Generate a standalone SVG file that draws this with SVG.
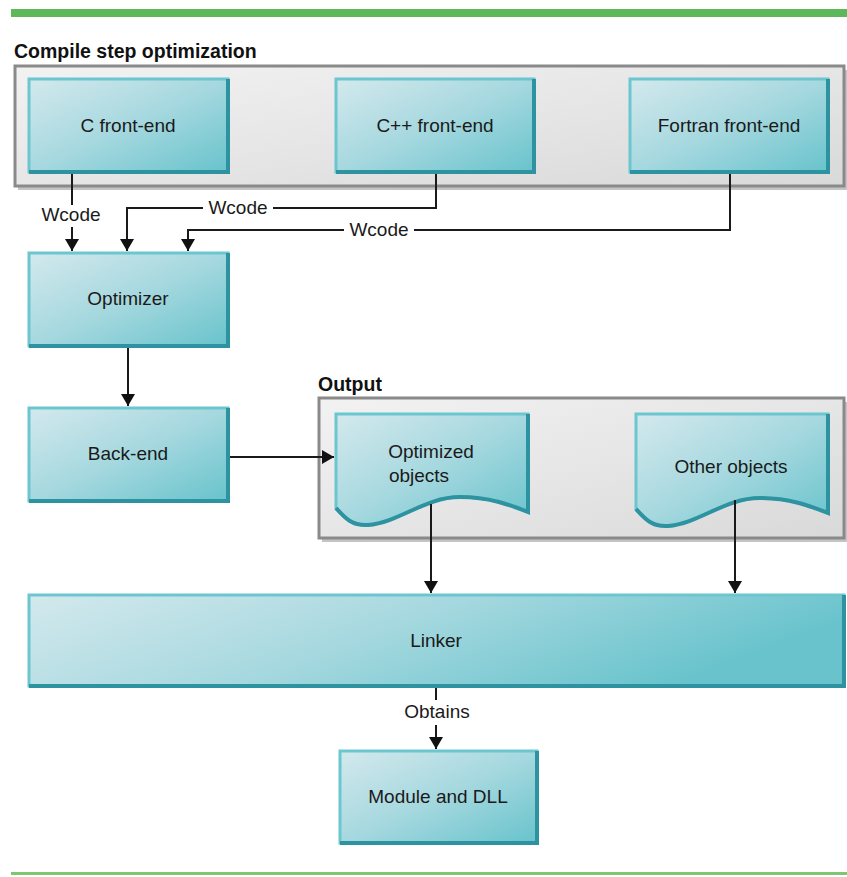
<svg xmlns="http://www.w3.org/2000/svg" width="847" height="877" viewBox="0 0 847 877">
<defs>
<linearGradient id="cyan" x1="0" y1="0" x2="1" y2="1">
<stop offset="0" stop-color="#d3e9ed"/>
<stop offset="0.5" stop-color="#a6d8df"/>
<stop offset="1" stop-color="#68c3cc"/>
</linearGradient>
<linearGradient id="cyanWide" x1="0" y1="0" x2="1" y2="0.3">
<stop offset="0" stop-color="#d3e9ed"/>
<stop offset="0.5" stop-color="#a6d8df"/>
<stop offset="1" stop-color="#68c3cc"/>
</linearGradient>
<linearGradient id="grey" x1="0" y1="0" x2="1" y2="1">
<stop offset="0" stop-color="#f2f2f2"/>
<stop offset="0.5" stop-color="#e6e6e6"/>
<stop offset="1" stop-color="#d9d9d9"/>
</linearGradient>
<marker id="arr" viewBox="0 0 12 14" refX="12" refY="7" markerWidth="12" markerHeight="14" markerUnits="userSpaceOnUse" orient="auto">
<path d="M0,0 L12,7 L0,14 Z" fill="#111"/>
</marker>
<style>
.box{fill:url(#cyan);stroke:#6cc6cf;stroke-width:3}
.wide{fill:url(#cyanWide);stroke:#6cc6cf;stroke-width:3}
.bev{fill:none;stroke:#2d93a1;stroke-width:4}
.grp{fill:url(#grey);stroke:#8a8a8a;stroke-width:3}
.shadow{fill:#c4c4c4}
.lbl{font-family:"Liberation Sans",Arial,sans-serif;font-size:19px;fill:#1a1a1a;text-anchor:middle}
.ttl{font-family:"Liberation Sans",Arial,sans-serif;font-size:19.5px;font-weight:bold;fill:#111}
.ln{fill:none;stroke:#1a1a1a;stroke-width:2}
.arrow{fill:none;stroke:#1a1a1a;stroke-width:2;marker-end:url(#arr)}
</style>
</defs>
<rect width="847" height="877" fill="#ffffff"/>
<rect x="11" y="9" width="836" height="8" fill="#5cb85a"/>
<rect x="11" y="872" width="836" height="3" fill="#7cc772"/>

<g id="group-compile">
<text class="ttl" x="14" y="58">Compile step optimization</text>
<rect class="shadow" x="18" y="70" width="829" height="120"/>
<rect class="grp" x="15" y="66" width="829" height="120"/>
</g>

<g id="group-output">
<text class="ttl" x="318" y="391">Output</text>
<rect class="shadow" x="322" y="402" width="525" height="140"/>
<rect class="grp" x="319" y="398" width="525" height="140"/>
</g>

<g id="node-c">
<rect class="box" x="29" y="79" width="199" height="93"/>
<polyline class="bev" points="29,172 228,172 228,79"/>
<text class="lbl" x="128" y="132">C front-end</text>
</g>
<g id="node-cpp">
<rect class="box" x="336" y="79" width="198" height="93"/>
<polyline class="bev" points="336,172 534,172 534,79"/>
<text class="lbl" x="435" y="132">C++ front-end</text>
</g>
<g id="node-fortran">
<rect class="box" x="630" y="79" width="198" height="93"/>
<polyline class="bev" points="630,172 828,172 828,79"/>
<text class="lbl" x="729" y="132">Fortran front-end</text>
</g>
<g id="node-optimizer">
<rect class="box" x="29" y="253" width="199" height="93"/>
<polyline class="bev" points="29,346 228,346 228,253"/>
<text class="lbl" x="128" y="305">Optimizer</text>
</g>
<g id="node-backend">
<rect class="box" x="29" y="408" width="199" height="93"/>
<polyline class="bev" points="29,501 228,501 228,408"/>
<text class="lbl" x="128" y="460">Back-end</text>
</g>
<g id="node-optimized">
<path class="box" d="M336,414 H528 V512 C510,505 490,497 460,497 C425,497 400,522 368,525 C352,526 345,518 336,508 Z"/>
<path class="bev" d="M336,508 C345,518 352,526 368,525 C400,522 425,497 460,497 C490,497 510,505 528,512 V414"/>
<text class="lbl" x="431" y="458">Optimized</text>
<text class="lbl" x="419" y="482">objects</text>
</g>
<g id="node-other">
<path class="box" d="M636,414 H828 V513 C810,506 790,498 760,498 C725,498 700,523 668,526 C652,527 645,519 636,509 Z"/>
<path class="bev" d="M636,509 C645,519 652,527 668,526 C700,523 725,498 760,498 C790,498 810,506 828,513 V414"/>
<text class="lbl" x="731" y="473">Other objects</text>
</g>
<g id="node-linker">
<rect class="wide" x="29" y="595" width="815" height="91"/>
<polyline class="bev" points="29,686 844,686 844,595"/>
<text class="lbl" x="436" y="647">Linker</text>
</g>
<g id="node-module">
<rect class="box" x="340" y="751" width="197" height="92"/>
<polyline class="bev" points="340,843 537,843 537,751"/>
<text class="lbl" x="438" y="803">Module and DLL</text>
</g>

<g id="connectors">
<line class="ln" x1="72" y1="174" x2="72" y2="205"/>
<text class="lbl" x="71" y="221">Wcode</text>
<line class="arrow" x1="72" y1="227" x2="72" y2="251"/>
<polyline class="ln" points="436,174 436,208 273,208"/>
<text class="lbl" x="238" y="214">Wcode</text>
<polyline class="arrow" points="203,208 127,208 127,251"/>
<polyline class="ln" points="730,174 730,230 414,230"/>
<text class="lbl" x="379" y="236">Wcode</text>
<polyline class="arrow" points="344,230 188,230 188,251"/>
<line class="arrow" x1="128" y1="348" x2="128" y2="406"/>
<line class="arrow" x1="230" y1="457" x2="334" y2="457"/>
<line class="arrow" x1="431" y1="504" x2="431" y2="593"/>
<line class="arrow" x1="735" y1="500" x2="735" y2="593"/>
<line class="ln" x1="436" y1="688" x2="436" y2="700"/>
<text class="lbl" x="437" y="718">Obtains</text>
<line class="arrow" x1="436" y1="725" x2="436" y2="749"/>
</g>
</svg>
